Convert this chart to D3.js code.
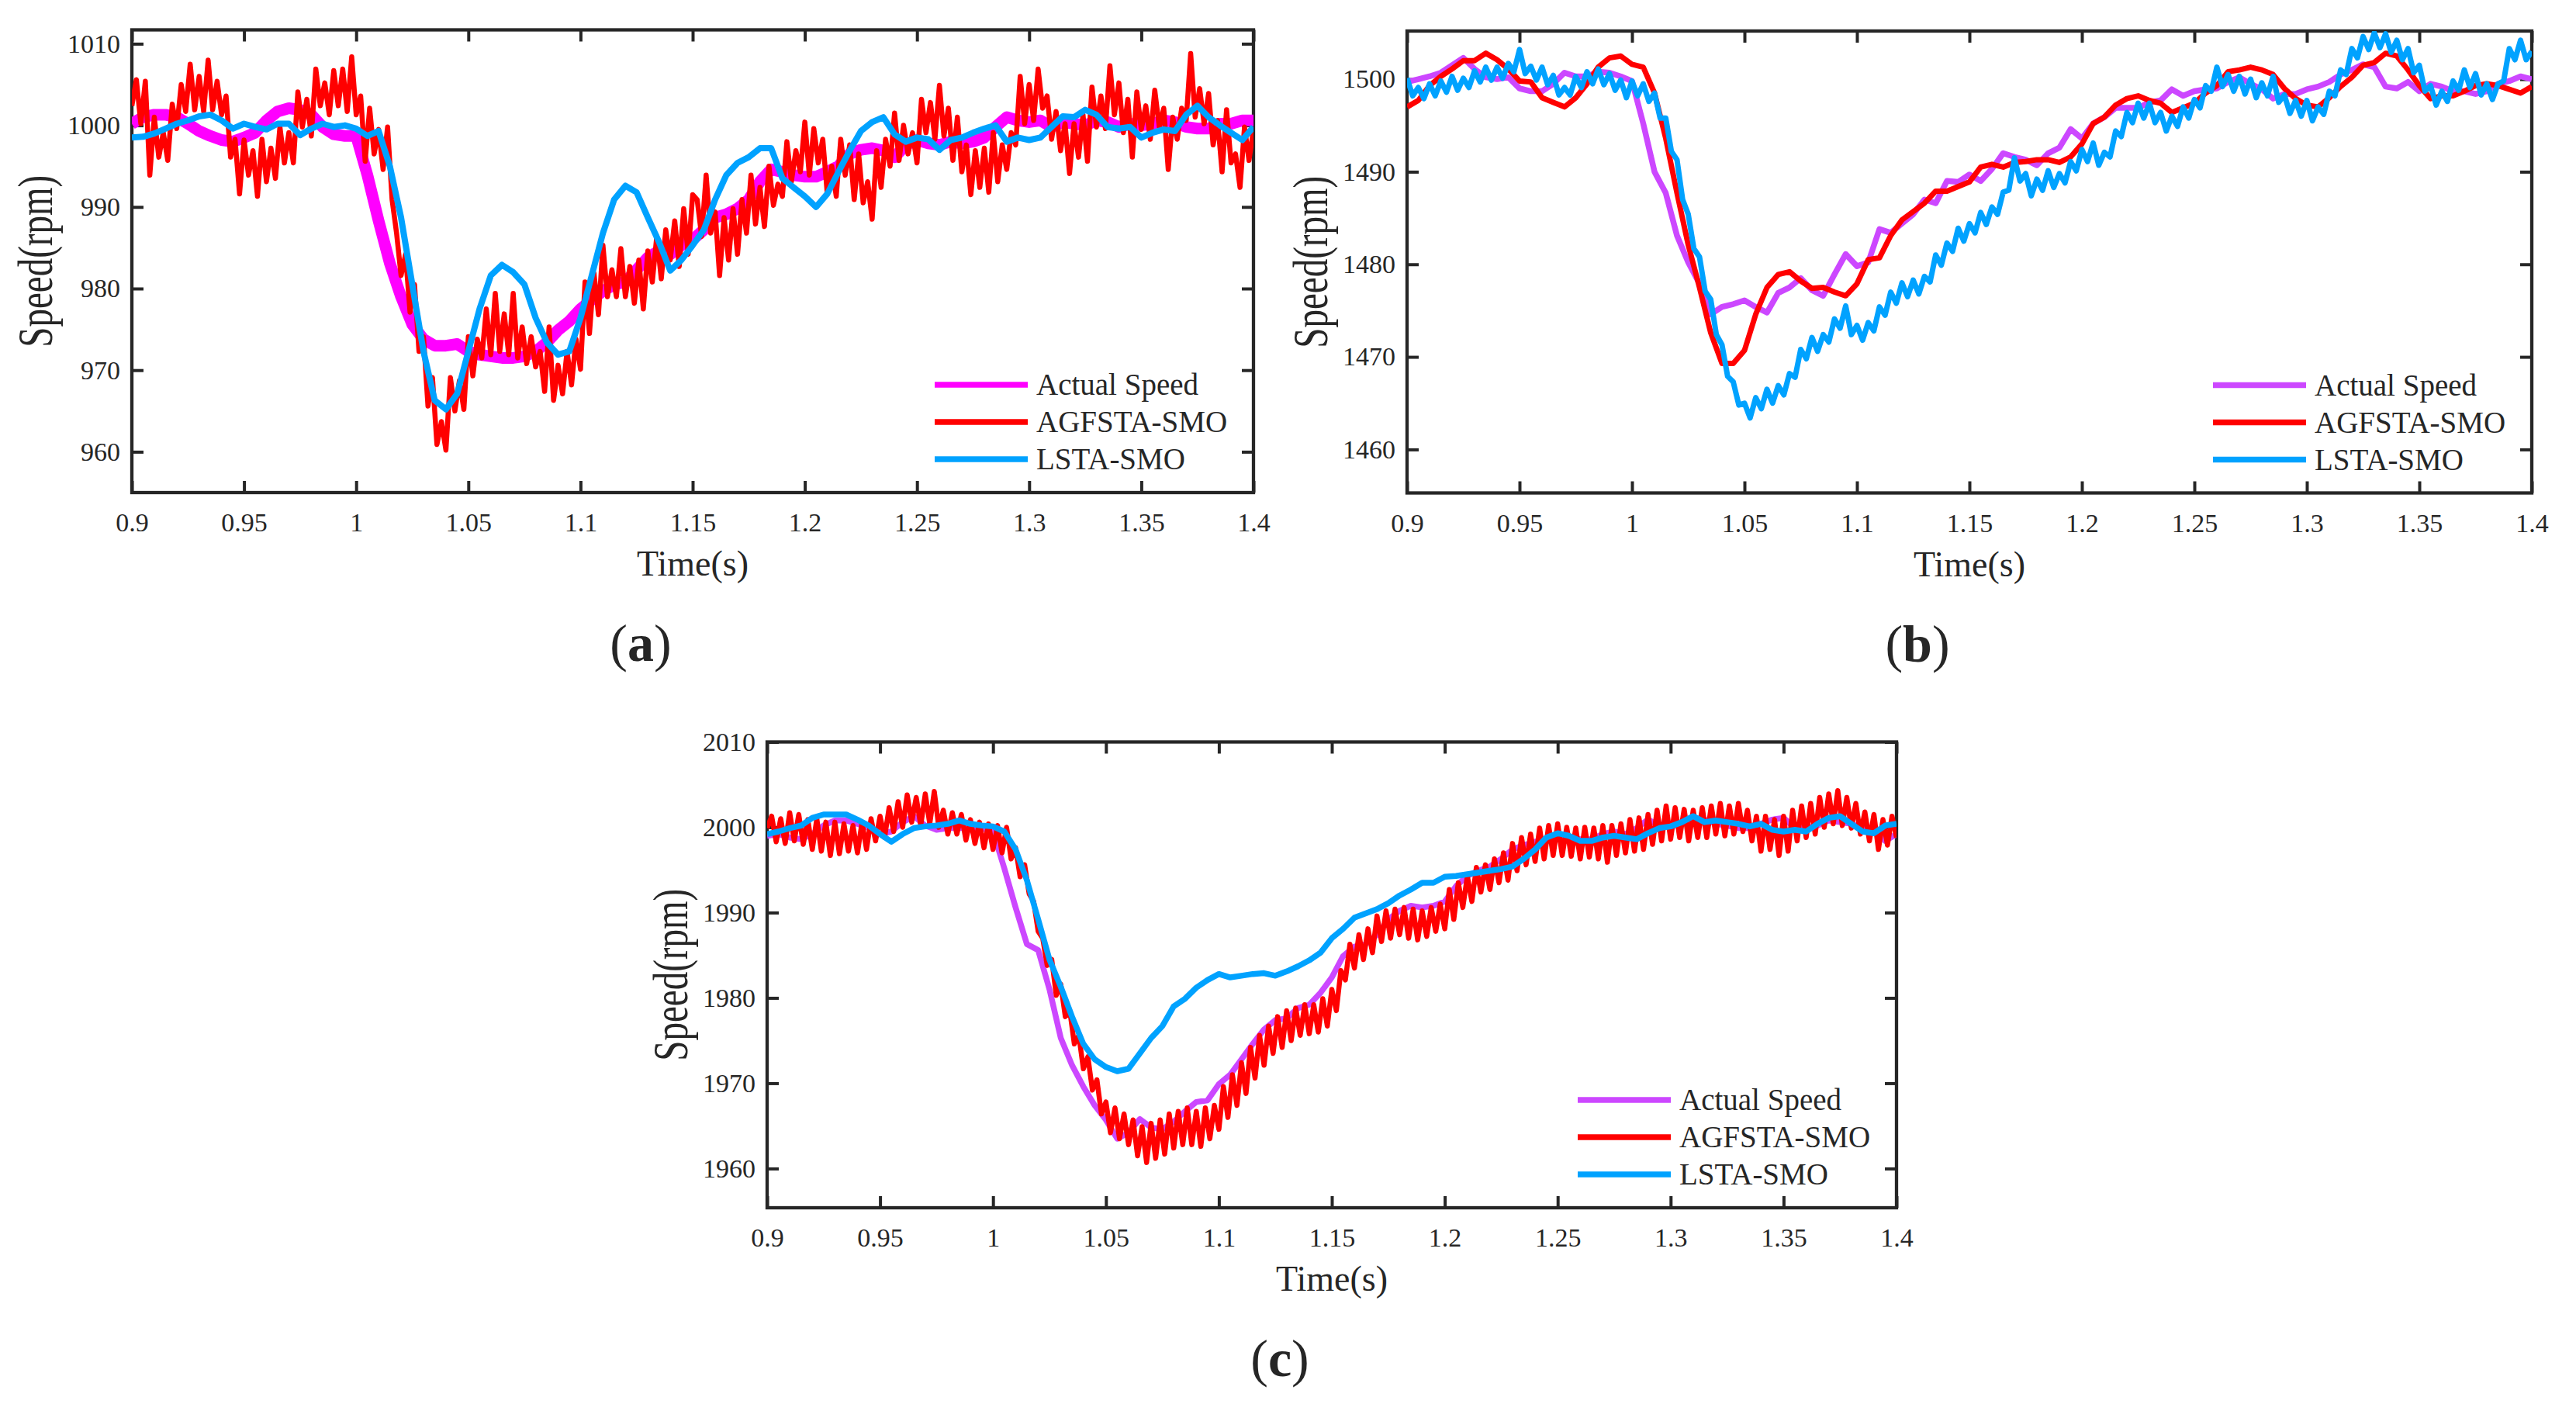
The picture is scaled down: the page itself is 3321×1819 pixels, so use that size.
<!DOCTYPE html>
<html>
<head>
<meta charset="utf-8">
<script src="https://cdn.jsdelivr.net/npm/d3@7"></script>
<style>
  body { margin: 0; background: #fff; }
  svg { display: block; }
  text { font-family: "Liberation Serif", "Times New Roman", serif; fill: #262626; }
</style>
</head>
<body>
<script>
// time axis, shared by all three panels
const tStart = 0.9, tEnd = 1.4;
const xTicks = [0.9, 0.95, 1, 1.05, 1.1, 1.15, 1.2, 1.25, 1.3, 1.35, 1.4];
const xTickLabels = ["0.9", "0.95", "1", "1.05", "1.1", "1.15", "1.2", "1.25", "1.3", "1.35", "1.4"];
const seriesNames = ["Actual Speed", "AGFSTA-SMO", "LSTA-SMO"];

// ---- panel (a), 1000 rpm ----
const yTicksA = [960, 970, 980, 990, 1000, 1010];
// 5 ms samples
const actualA = [1000.2, 1001.0, 1001.3, 1001.3, 1001.0, 1000.2, 999.3, 998.7, 998.2, 998.0,
  998.5, 999.1, 1000.6, 1001.7, 1002.1, 1001.9, 1001.3, 999.8, 998.9, 998.7,
  998.7, 993.9, 988.3, 983.1, 979.0, 975.6, 973.8, 973.0, 973.0, 973.2,
  972.3, 971.9, 971.7, 971.5, 971.5, 971.7, 972.3, 973.4, 974.9, 976.0,
  977.5, 978.6, 979.7, 980.5, 980.8, 982.3, 983.8, 984.6, 984.2, 985.3, 986.0,
  987.2, 988.7, 989.1, 989.8, 990.9, 993.1, 994.6, 994.3, 993.9, 993.7,
  993.7, 994.3, 995.0, 996.5, 997.0, 997.2, 996.9, 996.1, 997.6, 998.2,
  997.8, 997.6, 998.0, 997.8, 998.0, 998.5, 999.8, 1001.0, 1000.6, 1000.4,
  1000.6, 999.8, 1000.4, 1000.2, 1000.0, 1000.6, 1000.4, 999.8, 1000.2, 1000.0,
  1000.2, 1000.6, 1000.4, 999.8, 999.6, 999.6, 1000.2, 1000.2, 1000.6, 1000.6];
// 2 ms samples
const agfstaA = [1002.4, 1005.6, 1000.2, 1005.4, 993.9, 1001.0, 996.1, 999.1, 995.7, 1002.6,
  999.6, 1005.0, 1001.7, 1007.5, 1001.9, 1006.0, 1001.7, 1008.0, 1001.9, 1005.4,
  1001.3, 1003.6, 996.1, 998.3, 991.6, 998.2, 993.9, 996.9, 991.3, 998.3,
  993.1, 997.2, 993.5, 999.8, 995.4, 999.1, 995.4, 1004.1, 999.8, 1003.2,
  998.7, 1006.9, 1002.4, 1005.2, 1001.3, 1006.7, 1002.4, 1006.9, 1001.7, 1008.4,
  1001.3, 1003.6, 995.6, 1002.1, 996.5, 999.5, 994.6, 999.8, 990.9, 986.8,
  981.6, 984.2, 977.1, 980.5, 972.3, 974.1, 965.6, 969.1, 960.9, 963.7,
  960.2, 969.1, 965.0, 968.7, 965.2, 974.1, 969.3, 973.8, 971.5, 977.5,
  971.9, 979.4, 972.3, 976.9, 971.9, 979.4, 971.5, 975.3, 970.8, 974.1,
  970.4, 972.3, 967.4, 975.3, 966.3, 970.6, 967.1, 972.3, 968.2, 973.8,
  970.1, 980.8, 974.5, 981.9, 976.8, 985.3, 979.0, 982.3, 979.0, 984.9,
  979.0, 982.7, 978.2, 983.5, 977.5, 984.6, 980.8, 986.4, 981.2, 987.2,
  983.5, 988.3, 982.7, 989.8, 984.2, 991.5,
  990.9, 986.4, 993.9, 986.8, 989.4, 981.6, 988.7, 983.5,
  989.8, 984.2, 990.9, 986.8, 993.9, 987.9, 992.4, 987.6, 995.0, 990.2,
  992.8, 991.3, 998.0, 993.1, 996.9, 994.3, 1000.4, 993.9, 999.6, 995.4,
  998.3, 991.6, 995.0, 991.3, 998.3, 993.9, 997.6, 990.9, 996.5, 990.5,
  993.1, 988.5, 996.9, 992.4, 998.3, 995.0, 1001.5, 995.7,
  1000.0, 996.5, 999.1, 995.4, 1003.2, 999.1, 1002.8, 998.3, 1004.9, 998.7,
  1002.1, 995.7, 1001.0, 994.3, 997.6, 991.5, 996.9, 992.4, 997.2, 991.8,
  999.1, 993.1, 997.6, 994.6, 999.1, 997.6, 1006.0, 1000.2,
  1005.0, 1000.6, 1006.9, 1002.1, 1003.6, 998.3, 1001.7, 996.9, 1000.2, 994.1,
  1000.2, 996.1, 1001.3, 995.6, 1004.7, 999.8, 1003.6, 999.6, 1007.3, 1001.3,
  1005.2, 999.1, 1003.2, 996.1, 1004.1, 999.5, 1002.4, 998.3,
  1004.3, 999.8, 1002.1, 994.6, 1001.0, 998.3, 1002.1, 1000.6, 1008.8, 1001.0,
  1004.5, 1000.2, 1003.9, 997.6, 1000.6, 994.3, 1001.9, 995.4, 996.5, 992.4,
  999.8, 995.7, 999.5];
// 5 ms samples
const lstaA = [998.5, 998.6, 999.0, 999.6, 1000.2, 1000.6, 1001.1, 1001.3, 1000.6, 999.6,
  1000.2, 999.8, 999.5, 1000.2, 1000.2, 998.8, 999.6, 1000.2, 999.8, 1000.0,
  999.6, 998.7, 999.3, 995.0, 988.7, 980.5, 972.3, 966.3, 965.2, 967.1,
  972.3, 977.5, 981.6, 982.9, 982.0, 980.5, 976.4, 973.4, 971.9, 972.3,
  976.4, 981.6, 986.8, 990.9, 992.6, 991.8, 988.7, 985.7, 982.2, 983.5, 985.3,
  987.2, 990.9, 993.9, 995.4, 996.1, 997.2, 997.2, 993.5, 992.4, 991.3,
  990.0, 991.6, 994.3, 996.9, 999.3, 1000.4, 1001.0, 998.9, 998.0, 998.5,
  998.3, 997.0, 998.2, 998.5, 999.1, 999.6, 1000.0, 998.0, 998.5, 998.2,
  998.5, 999.8, 1001.1, 1001.0, 1001.9, 1001.3, 999.8, 999.6, 999.8, 998.5,
  999.1, 999.5, 999.3, 1001.3, 1002.4, 1001.0, 1000.0, 999.1, 998.2, 999.8];

// ---- panel (b), 1500 rpm ----
const yTicksB = [1460, 1470, 1480, 1490, 1500];
// 5 ms samples
const actualB = [1499.7, 1500.0, 1500.3, 1500.7, 1501.5, 1502.3, 1501.1, 1500.2, 1500.0, 1500.2,
  1499.0, 1498.7, 1498.7, 1499.5, 1500.7, 1500.3, 1500.3, 1500.8, 1500.7, 1500.3,
  1499.8, 1495.2, 1490.0, 1487.7, 1483.1, 1480.2, 1477.9, 1474.6, 1475.4, 1475.7,
  1476.1, 1475.4, 1474.8, 1476.9, 1477.5, 1478.5, 1477.2, 1476.6, 1478.9, 1481.1,
  1479.8, 1480.2, 1483.8, 1483.4, 1484.4, 1485.4, 1487.0, 1486.6, 1489.0, 1488.9, 1489.7,
  1489.0, 1490.3, 1492.0, 1491.6, 1491.3, 1490.7, 1492.0, 1492.6, 1494.6, 1493.6,
  1495.2, 1495.9, 1496.9, 1496.9, 1496.9, 1497.5, 1497.7, 1498.9, 1498.2, 1498.7,
  1498.9, 1499.0, 1499.7, 1500.2, 1499.5, 1498.9, 1497.9, 1498.4, 1498.4, 1498.9,
  1499.2, 1499.7, 1500.5, 1501.0, 1501.6, 1501.3, 1499.2, 1499.0, 1499.7, 1498.7,
  1499.5, 1499.2, 1498.7, 1498.7, 1498.4, 1498.7, 1499.5, 1499.8, 1500.3, 1500.0];
// 5 ms samples
const agfstaB = [1497.0, 1497.7, 1499.3, 1500.3, 1501.1, 1502.0, 1502.0, 1502.8, 1502.1, 1501.1,
  1499.8, 1499.7, 1498.0, 1497.5, 1497.0, 1498.0, 1499.5, 1501.3, 1502.3, 1502.5,
  1501.6, 1501.3, 1498.5, 1493.6, 1487.7, 1482.1, 1477.5, 1472.6, 1469.3, 1469.3,
  1470.7, 1474.6, 1477.5, 1478.9, 1479.2, 1478.2, 1477.4, 1477.5, 1477.0, 1476.6,
  1477.9, 1480.5, 1480.7, 1483.1, 1484.8, 1485.7, 1486.6, 1487.9, 1487.9, 1488.4, 1488.9,
  1490.5, 1490.8, 1490.5, 1491.0, 1491.1, 1491.3, 1491.3, 1491.0, 1491.6, 1493.0,
  1495.2, 1495.9, 1497.2, 1497.9, 1498.2, 1497.7, 1497.4, 1496.4, 1496.9, 1497.4,
  1498.5, 1499.3, 1500.8, 1501.0, 1501.3, 1501.0, 1500.5, 1499.0, 1497.9, 1497.2,
  1497.0, 1498.0, 1499.2, 1500.2, 1501.5, 1501.8, 1502.8, 1502.5, 1501.0, 1499.3,
  1497.9, 1498.2, 1498.2, 1498.7, 1499.3, 1499.5, 1499.3, 1498.9, 1498.5, 1499.2];
// 2.5 ms samples
const lstaB = [1500.1, 1498.2, 1499.1, 1497.9, 1499.5, 1498.2, 1499.8, 1498.6, 1500.3, 1498.8,
  1500.1, 1499.1, 1500.9, 1499.7, 1501.3, 1499.9, 1501.3, 1500.1, 1501.7, 1500.8,
  1503.2, 1500.6, 1501.4, 1499.9, 1501.3, 1499.4, 1500.4, 1498.3, 1499.1, 1498.3,
  1500.3, 1499.1, 1500.8, 1499.5, 1501.1, 1499.4, 1500.6, 1498.8, 1499.9, 1498.0,
  1499.8, 1498.2, 1499.5, 1497.6, 1498.5, 1495.8, 1495.8, 1492.2, 1491.3, 1487.0,
  1485.4, 1481.7, 1480.8, 1477.1, 1476.2, 1472.4, 1471.3, 1467.9, 1467.3, 1464.8,
  1465.0, 1463.4, 1465.6, 1464.4, 1466.5, 1465.0, 1466.9, 1465.9, 1468.2, 1467.8,
  1470.8, 1469.8, 1472.1, 1470.6, 1472.4, 1471.6, 1474.1, 1473.1, 1475.5, 1472.4,
  1473.4, 1471.8, 1473.7, 1472.8, 1475.4, 1474.5, 1477.0, 1475.8, 1478.0, 1476.5,
  1478.3, 1476.8, 1478.7, 1478.1, 1481.0, 1479.9, 1482.3, 1481.4, 1483.9, 1482.5,
  1484.4, 1483.4, 1485.6, 1484.3, 1486.2, 1485.4, 1487.8, 1488.0, 1491.5, 1489.0,
  1489.8, 1487.4, 1489.2, 1488.0, 1490.1, 1488.3, 1489.8, 1488.8, 1491.1, 1490.1,
  1492.4, 1491.1, 1493.1, 1490.7, 1492.1, 1491.6, 1494.4, 1493.8, 1496.4, 1495.3,
  1497.4, 1495.8, 1497.4, 1495.3, 1496.4, 1494.4, 1496.0, 1494.9, 1497.0, 1495.8,
  1497.8, 1496.9, 1499.3, 1498.7, 1501.3, 1499.2, 1500.5, 1498.7, 1500.3, 1498.4,
  1500.0, 1498.0, 1499.6, 1498.2, 1500.3, 1497.5, 1498.3, 1496.3, 1497.7, 1496.0,
  1497.7, 1495.5, 1497.0, 1496.2, 1498.7, 1498.2, 1501.0, 1500.5, 1503.3, 1502.3,
  1504.6, 1503.2, 1505.0, 1503.4, 1504.9, 1502.9, 1504.2, 1502.1, 1503.3, 1500.7,
  1501.5, 1498.7, 1499.3, 1497.2, 1498.7, 1497.6, 1499.8, 1498.8, 1501.0, 1499.1,
  1500.6, 1498.3, 1499.5, 1497.8, 1499.5, 1499.8, 1503.3, 1502.1, 1504.2, 1502.1,
  1503.0];

// ---- panel (c), 2000 rpm ----
const yTicksC = [1960, 1970, 1980, 1990, 2000, 2010];
// 5 ms samples
const actualC = [1999.0, 1999.2, 1998.8, 1998.6, 1999.2, 2000.2, 2000.8, 2000.8, 2000.4, 1999.9,
  1999.2, 1999.5, 2000.6, 2001.3, 2000.2, 1999.7, 1999.9, 1999.9, 1999.9, 1999.9,
  1999.5, 1995.2, 1990.6, 1986.3, 1985.6, 1981.0, 1975.3, 1972.1, 1969.6, 1967.4,
  1965.7, 1963.5, 1964.2, 1965.8, 1964.8, 1964.6, 1965.5, 1966.7, 1967.8, 1968.0,
  1969.9, 1971.0, 1972.8, 1974.6, 1976.3, 1977.4, 1977.6, 1978.8, 1979.2, 1980.6, 1982.4,
  1984.9, 1986.0, 1986.3, 1987.4, 1989.2, 1990.2, 1990.8, 1990.6, 1990.8, 1991.3,
  1993.1, 1994.3, 1994.9, 1995.4, 1996.3, 1997.4, 1997.9, 1998.3, 1998.6, 1998.8,
  1998.8, 1998.6, 1998.6, 1999.2, 1999.5, 1999.2, 1999.9, 2000.9, 2000.2, 2000.1,
  2000.4, 2000.8, 2000.9, 2000.4, 2000.2, 1999.9, 1999.9, 2000.4, 2000.9, 2001.1,
  1999.9, 1999.9, 2000.2, 2000.8, 2000.6, 2000.4, 1999.9, 1999.5, 1998.4, 1999.2];
// 2 ms samples
const agfstaC = [1999.9, 2001.3, 1998.3, 2001.0, 1998.1, 2001.7, 1998.4, 2001.5, 1998.0, 2000.9,
  1997.4, 2001.0, 1997.2, 2000.6, 1996.7, 2000.6, 1996.9, 2000.4, 1997.2, 2000.2,
  1997.0, 2000.6, 1997.4, 2001.0, 1998.4, 2001.3, 1998.8, 2002.3, 1999.5, 2003.0,
  2000.0, 2003.8, 2000.6, 2003.5, 2000.2, 2003.9, 2000.4, 2004.2, 2000.0, 2002.0,
  1999.2, 2001.7, 1999.2, 2001.5, 1998.5, 2000.9, 1998.1, 2000.6, 1997.6, 2000.4,
  1997.4, 2000.2, 1997.0, 2000.0, 1996.3, 1997.6, 1994.2, 1995.6, 1992.2, 1991.3,
  1987.8, 1987.0, 1983.8, 1984.5, 1980.3, 1981.6, 1977.8, 1978.5, 1974.6, 1975.6,
  1971.7, 1973.1, 1969.2, 1970.4, 1966.4, 1967.8, 1964.2, 1967.1, 1963.5, 1966.4,
  1962.8, 1965.7, 1961.5, 1964.9, 1960.7, 1965.3, 1961.2, 1965.7, 1961.7, 1966.4,
  1962.4, 1966.7, 1962.8, 1967.1, 1962.8, 1966.7, 1962.6, 1967.1, 1963.5, 1967.4,
  1964.6, 1969.6, 1966.0, 1971.0, 1967.4, 1972.4, 1968.8, 1974.2, 1970.6, 1975.6,
  1972.1, 1976.7, 1973.5, 1977.8, 1974.2, 1978.5, 1975.0, 1978.8, 1975.6, 1979.2,
  1975.8, 1979.2, 1976.0, 1979.9, 1976.7, 1981.0,
  1978.5, 1983.2, 1982.1, 1986.3,
  1983.5, 1987.4, 1984.5, 1988.1, 1985.3, 1989.6, 1986.6, 1990.2, 1987.0, 1990.4,
  1987.4, 1990.6, 1987.0, 1990.4, 1986.8, 1990.2, 1987.2, 1990.6, 1987.8, 1991.0,
  1988.1, 1992.7, 1989.2, 1993.5, 1990.6, 1994.3, 1991.3, 1995.3, 1992.4, 1995.6,
  1992.7, 1996.3, 1993.5, 1997.0, 1993.8, 1998.1, 1994.9, 1998.8, 1995.6, 1999.2,
  1996.0, 1999.9, 1996.3, 2000.2, 1996.7, 2000.4, 1996.7, 2000.0, 1996.6, 1999.9,
  1996.3, 2000.0, 1996.5, 1999.9, 1996.3, 2000.2, 1995.9, 2000.2, 1996.7, 2000.4,
  1997.0, 2000.9, 1997.2, 2001.1, 1997.4, 2001.5, 1998.0, 2002.0, 1998.4, 2002.5,
  1998.6, 2002.3, 1998.8, 2002.1, 1998.4, 2002.0, 1998.8, 2002.3, 1998.8, 2002.5,
  1999.2, 2002.8, 1999.0, 2002.5, 1999.2, 2002.8, 1999.5, 2002.0, 1998.4, 2001.3,
  1997.2, 2001.3, 1997.4, 2000.9, 1996.7, 2001.3, 1997.2, 2002.0, 1998.4, 2002.5,
  1998.8, 2002.8, 1999.2, 2003.5, 2000.0, 2003.9, 2000.4, 2004.3, 2000.2, 2003.5,
  1999.9, 2002.8, 1999.2, 2001.8, 1998.4, 2001.5, 1997.4, 2000.9, 1997.9, 2001.3,
  1998.8];
// 5 ms samples
const lstaC = [1999.2, 1999.5, 1999.9, 2000.2, 2001.1, 2001.5, 2001.5, 2001.5, 2000.9, 2000.2,
  1999.2, 1998.3, 1999.2, 1999.9, 2000.1, 2000.2, 2000.4, 2000.8, 2000.4, 2000.2,
  2000.1, 1999.5, 1997.4, 1993.8, 1989.2, 1984.5, 1981.3, 1977.8, 1974.6, 1972.8,
  1971.9, 1971.4, 1971.7, 1973.5, 1975.3, 1976.7, 1979.0, 1979.9, 1981.2, 1982.1,
  1982.8, 1982.4, 1982.6, 1982.8, 1982.9, 1982.6, 1983.1, 1983.7, 1984.4, 1985.3, 1987.0,
  1988.1, 1989.4, 1989.9, 1990.4, 1991.1, 1992.0, 1992.7, 1993.5, 1993.5, 1994.2,
  1994.3, 1994.5, 1994.7, 1994.9, 1995.1, 1995.4, 1996.3, 1997.4, 1998.8, 1999.3,
  1999.0, 1998.4, 1998.4, 1998.8, 1999.0, 1998.8, 1998.6, 1999.3, 1999.9, 2000.1,
  2000.6, 2001.3, 2000.6, 2000.8, 2000.6, 2000.4, 2000.1, 2000.4, 1999.7, 1999.5,
  1999.7, 1999.5, 2000.4, 2001.1, 2001.3, 2000.4, 1999.5, 1999.3, 2000.2, 2000.4];

// ---- layout ----
const axisColor = "#262626";
const panels = [
  { id: "a", left: 170, right: 1616, top: 38.5, bottom: 635, yDomain: [955, 1011.7], yTicks: yTicksA,
    colors: ["#FF00FF", "#FF0000", "#00A2FF"], widths: [15, 6.5, 8], data: [actualA, agfstaA, lstaA] },
  { id: "b", left: 1814, right: 3264, top: 40, bottom: 635.5, yDomain: [1455.3, 1505.2], yTicks: yTicksB,
    colors: ["#CC47FF", "#FF0000", "#00A2FF"], widths: [7.5, 7, 7], data: [actualB, agfstaB, lstaB] },
  { id: "c", left: 989, right: 2445, top: 956.5, bottom: 1557, yDomain: [1955.4, 2010], yTicks: yTicksC,
    colors: ["#CC47FF", "#FF0000", "#00A2FF"], widths: [7.5, 6.5, 7.5], data: [actualC, agfstaC, lstaC] }
];

const svg = d3.select("body").append("svg")
  .attr("width", 3321)
  .attr("height", 1819);

function drawPanel(p) {
  const x = d3.scaleLinear().domain([tStart, tEnd]).range([p.left, p.right]);
  const y = d3.scaleLinear().domain(p.yDomain).range([p.bottom, p.top]);
  const g = svg.append("g");
  const w = p.right - p.left, h = p.bottom - p.top;

  g.append("clipPath").attr("id", "clip-" + p.id)
    .append("rect").attr("x", p.left).attr("y", p.top).attr("width", w).attr("height", h);

  // inward ticks on all four sides
  const styleAxis = sel => {
    sel.select(".domain").remove();
    sel.selectAll(".tick line").attr("stroke", axisColor).attr("stroke-width", 4);
    sel.selectAll("text").attr("fill", axisColor);
  };
  g.append("g").attr("transform", `translate(0,${p.bottom})`)
    .call(d3.axisBottom(x).tickValues(xTicks).tickFormat((d, i) => xTickLabels[i])
      .tickSizeInner(-15).tickSizeOuter(0).tickPadding(26))
    .attr("font-size", 34)
    .call(styleAxis);
  g.append("g").attr("transform", `translate(0,${p.top})`)
    .call(d3.axisTop(x).tickValues(xTicks).tickFormat("").tickSizeInner(-15).tickSizeOuter(0))
    .call(styleAxis);
  g.append("g").attr("transform", `translate(${p.left},0)`)
    .call(d3.axisLeft(y).tickValues(p.yTicks).tickFormat(d3.format("d"))
      .tickSizeInner(-15).tickSizeOuter(0).tickPadding(15))
    .attr("font-size", 34)
    .call(styleAxis);
  g.append("g").attr("transform", `translate(${p.right},0)`)
    .call(d3.axisRight(y).tickValues(p.yTicks).tickFormat("").tickSizeInner(-15).tickSizeOuter(0))
    .call(styleAxis);

  g.append("rect")
    .attr("x", p.left).attr("y", p.top).attr("width", w).attr("height", h)
    .attr("fill", "none").attr("stroke", axisColor).attr("stroke-width", 4.3);

  // data lines
  const line = d3.line().x(d => x(d[0])).y(d => y(d[1]));
  p.data.forEach((vals, k) => {
    const n = vals.length;
    const pts = vals.map((v, i) => [tStart + i * (tEnd - tStart) / (n - 1), v]);
    g.append("path")
      .datum(pts)
      .attr("clip-path", `url(#clip-${p.id})`)
      .attr("fill", "none")
      .attr("stroke", p.colors[k])
      .attr("stroke-width", p.widths[k])
      .attr("stroke-linejoin", "round")
      .attr("d", line);
  });

  // legend
  const rows = [139, 91, 43];
  seriesNames.forEach((name, k) => {
    const ly = p.bottom - rows[k];
    g.append("line")
      .attr("x1", p.right - 411).attr("x2", p.right - 291)
      .attr("y1", ly).attr("y2", ly)
      .attr("stroke", p.colors[k]).attr("stroke-width", 7.5);
    g.append("text")
      .attr("x", p.right - 280).attr("y", ly + 13)
      .attr("font-size", 39)
      .attr("fill", "#000")
      .text(name);
  });

  // axis titles
  const cx = (p.left + p.right) / 2;
  g.append("text")
    .attr("x", cx).attr("y", p.bottom + 107)
    .attr("text-anchor", "middle").attr("font-size", 46)
    .text("Time(s)");
  g.append("text")
    .attr("transform", `translate(${p.left - 103},${(p.top + p.bottom) / 2}) rotate(-90) scale(1,1.33)`)
    .attr("text-anchor", "middle").attr("font-size", 47)
    .text("Speed(rpm)");

  // panel label
  const lab = g.append("text")
    .attr("x", cx - 67).attr("y", p.bottom + 217)
    .attr("text-anchor", "middle").attr("font-size", 68).attr("fill", "#000");
  lab.append("tspan").text("(");
  lab.append("tspan").attr("font-weight", "bold").text(p.id);
  lab.append("tspan").text(")");
}

panels.forEach(drawPanel);
</script>
</body>
</html>
